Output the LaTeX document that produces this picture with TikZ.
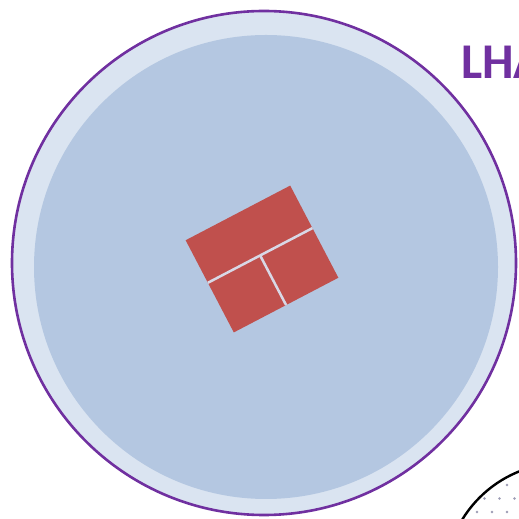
\documentclass[tikz,border=0pt]{standalone}
\usepackage{fontspec}
\setmainfont{Carlito}
\definecolor{lhapurple}{HTML}{7030A0}
\definecolor{ringblue}{HTML}{DAE4F1}
\definecolor{coreblue}{HTML}{B4C7E1}
\definecolor{boxred}{HTML}{C0504D}
\definecolor{seamgray}{HTML}{D8D8E6}
\definecolor{dotgray}{HTML}{9C9CB4}
\begin{document}
\begin{tikzpicture}[x=1pt,y=1pt]
\useasboundingbox (0,0) rectangle (519,519);
\clip (0,0) rectangle (519,519);
\fill[white] (0,0) rectangle (519,519);
% big cell
\filldraw[fill=ringblue, draw=lhapurple, line width=2.6pt] (264,256) circle (252);
\fill[coreblue] (266,252) circle (232);
% red block
\begin{scope}[shift={(262,260)}, rotate=27.6]
\fill[boxred] (-59,-52) rectangle (59,52);
\draw[seamgray, line width=2.5pt] (-59,4) -- (59,4);
\draw[seamgray, line width=2.5pt] (0,-52) -- (0,4);
\end{scope}
% label
\node[anchor=base west, inner sep=0pt, text=lhapurple, font=\fontsize{50}{50}\selectfont\bfseries] (lha) at (461,440) {LHA};
% neighbour cell, bottom right
\begin{scope}
\clip (563,-62) circle (118);
\fill[white] (563,-62) circle (118);
\foreach \row in {0,...,5} {
  \foreach \col in {0,...,6} {
    \fill[dotgray] ({447+15*\col+7.5*mod(\row,2)},{7+13.5*\row}) circle (1.3);
  }
}
\end{scope}
\draw[black, line width=2.4pt] (563,-62) circle (118);
\end{tikzpicture}
\end{document}
